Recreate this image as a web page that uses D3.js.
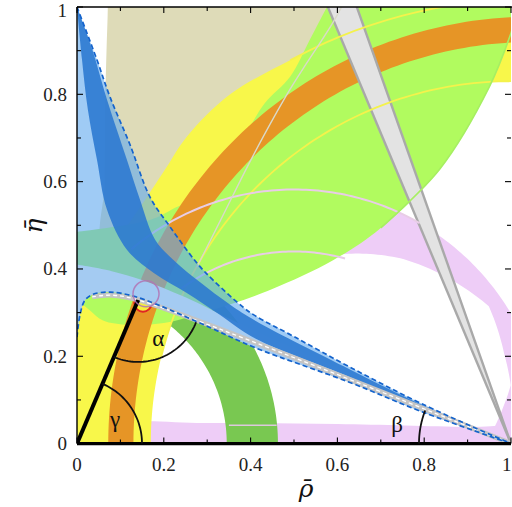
<!DOCTYPE html>
<html>
<head>
<meta charset="utf-8">
<script src="https://cdn.jsdelivr.net/npm/d3@7"></script>
<style>
  html, body { margin: 0; padding: 0; background: #fff; }
  svg { display: block; }
</style>
</head>
<body>
<svg id="chart" width="512" height="507"></svg>
<script>
// ---- axis ticks -------------------------------------------------------
const xTicks = [0, 0.2, 0.4, 0.6, 0.8, 1];
const yTicks = [0, 0.2, 0.4, 0.6, 0.8, 1];
const minorTicks = [0.1, 0.3, 0.5, 0.7, 0.9];

// ---- circular bands: [centre rho, centre eta, inner r, outer r] --------
const vubRing = [0, 0, 0.345, 0.463];
const orangeRing = [1.05, 0, 0.92, 0.978];
const yellowInner = [1, 0, 0.83];
const pinkCentre = [0.5, 0, 0.582];          // centre and outer radius
// inner edge of the pink band: [angle in degrees, radius]
const pinkInner = [[0, 0.45], [5, 0.465], [10, 0.49], [15, 0.517], [23, 0.526], [35, 0.548], [45, 0.524],
  [60, 0.49], [77, 0.444], [90, 0.44], [180, 0.44]];

// ---- free-form constraint boundaries (rho, eta) -----------------------
const yellowOuter = [[0, 0], [0, 0.31], [0.04, 0.385], [0.1, 0.475], [0.168, 0.575], [0.207, 0.634],
  [0.253, 0.703], [0.353, 0.8], [0.491, 0.878], [0.6, 0.93], [0.75, 0.98], [0.9, 1.01], [1.0, 1.02], [1.2, 1.03]];
const pinkStrip = [[0.1, 0], [0.1, 0.04], [0.3, 0.047], [0.6, 0.045], [0.9, 0.038], [1.05, 0.035], [1.05, 0]];
const tanRegion = [[0.071, 1.08], [0.071, 1.0], [0.068, 0.9], [0.065, 0.78], [0.064, 0.6], [0.064, 0.44],
  [0.25, 0.44], [0.3, 0.62], [0.4, 0.75], [0.5, 0.85], [0.55, 0.93], [0.59, 1.0], [0.63, 1.08]];
const limeUpper = [[0, 0.485], [0.168, 0.512], [0.226, 0.54], [0.272, 0.565], [0.318, 0.62], [0.382, 0.7],
  [0.433, 0.78], [0.491, 0.84], [0.537, 0.926], [0.576, 1.0], [0.61, 1.06]];
const limeLower = [[0, 0.33], [0.03, 0.305], [0.06, 0.282], [0.12, 0.272], [0.2, 0.276], [0.28, 0.297],
  [0.359, 0.321], [0.45, 0.354], [0.59, 0.42], [0.7, 0.494], [0.836, 0.629], [0.95, 0.817], [1.0, 0.94], [1.04, 1.07]];
const grayWedgeApex = [1, 0];
const grayWedgeTop = [0.557, 0.627];     // rho where the wedge edges leave at eta = 1.05
const paleLine = [[0.62, 1.02], [0.59, 0.965], [0.49, 0.81], [0.405, 0.658], [0.33, 0.51], [0.276, 0.404]];

// ---- global fit region (blue) ------------------------------------------
const fitUpper = [[0, 1], [0.046, 0.879], [0.076, 0.794], [0.122, 0.685], [0.168, 0.565], [0.214, 0.497],
  [0.276, 0.414], [0.313, 0.375], [0.382, 0.313], [0.412, 0.292], [0.5, 0.245], [0.629, 0.175], [0.797, 0.09], [1, 0]];
const fitLower = [[0, 0.244], [0.007, 0.295], [0.018, 0.328], [0.037, 0.342], [0.076, 0.347], [0.129, 0.338],
  [0.191, 0.316], [0.306, 0.266], [0.412, 0.219], [0.629, 0.14], [0.797, 0.072], [1, 0]];
const coreLeft = [[0, 1], [0.0115, 0.88], [0.025, 0.765], [0.046, 0.65], [0.069, 0.536], [0.115, 0.444],
  [0.177, 0.391], [0.253, 0.345], [0.329, 0.295], [0.412, 0.24], [0.629, 0.152], [0.797, 0.078], [1, 0]];
const coreRight = [[0, 1], [0.035, 0.903], [0.069, 0.788], [0.115, 0.65], [0.145, 0.559], [0.18, 0.467],
  [0.226, 0.417], [0.283, 0.37], [0.353, 0.318], [0.412, 0.281], [0.629, 0.17], [0.797, 0.088], [1, 0]];
const lowerBandTop = [[0, 0.41], [0.08, 0.395], [0.15, 0.375], [0.25, 0.335], [0.4, 0.262], [0.629, 0.16], [1, 0]];
const sideBand = [[0.035, 0.336], [0.08, 0.34], [0.141, 0.329], [1, 0]];

// ---- unitarity triangle ----------------------------------------------
const apex = [0.141, 0.329];
const origin = [0, 0];
const corner = [1, 0];
const apexSpot = [0.152, 0.322, 0.02];   // rho, eta, radius
const apexHalo = [0.159, 0.343, 0.03];
const angleNames = ["α", "β", "γ"];

// ---- drawing ---------------------------------------------------------
const svg = d3.select("#chart");
const x = d3.scaleLinear().domain([0, 1]).range([77, 511]);
const y = d3.scaleLinear().domain([0, 1]).range([443.6, 7]);

const straight = d3.line().x(d => x(d[0])).y(d => y(d[1]));
const smooth = d3.line().x(d => x(d[0])).y(d => y(d[1])).curve(d3.curveCatmullRom.alpha(0.5));

function arcPts(cx, cy, r, a0, a1, n) {
  const p = [];
  for (let i = 0; i <= n; i++) {
    const t = a0 + (a1 - a0) * i / n;
    p.push([cx + r * Math.cos(t), cy + r * Math.sin(t)]);
  }
  return p;
}
function ringPts(c) {
  const [cx, cy, r0, r1] = c;
  return arcPts(cx, cy, r1, 0, Math.PI, 200).concat(arcPts(cx, cy, r0, Math.PI, 0, 200));
}
// joins several boundary pieces (each of two or more points) into one closed outline
function outline(pieces) {
  return pieces.map((p, i) => {
    const s = (p[1] ? smooth : straight)(p[0]).replace(/Z$/, "");
    return i === 0 ? s : "L" + s.slice(1);
  }).join("") + "Z";
}

svg.append("defs").append("clipPath").attr("id", "plotArea")
  .append("rect").attr("x", x(0)).attr("y", y(1))
  .attr("width", x(1) - x(0)).attr("height", y(0) - y(1));

const g = svg.append("g").attr("clip-path", "url(#plotArea)");

// pink band: fixed outer circle, inner edge interpolated from pinkInner
const innerR = d3.scaleLinear().domain(pinkInner.map(d => d[0])).range(pinkInner.map(d => d[1]));
const pinkPts = arcPts(pinkCentre[0], pinkCentre[1], pinkCentre[2], 0, Math.PI, 200)
  .concat(d3.range(180, -1, -1).map(a => {
    const t = a * Math.PI / 180, r = innerR(a);
    return [pinkCentre[0] + r * Math.cos(t), pinkCentre[1] + r * Math.sin(t)];
  }));

// filled constraints
g.append("path").attr("d", smooth(pinkStrip) + "Z").attr("fill", "#eecdf7");
g.append("path").attr("d", straight(pinkPts) + "Z").attr("fill", "#eecdf7");
g.append("path").attr("d", smooth(tanRegion) + "Z").attr("fill", "#dedbb8");
g.append("path").attr("d", straight(ringPts(vubRing)) + "Z").attr("fill", "#79c851");
g.append("path").attr("d", outline([
  [yellowOuter, true],
  [[[1.9, 1.03], [1.9, 0]], false],
  [arcPts(yellowInner[0], yellowInner[1], yellowInner[2], 0, Math.PI, 200), false]
])).attr("fill", "#f8f74a");
g.append("path").attr("d", outline([
  [limeUpper, true],
  [[[0.7, 1.1], [1.15, 1.1]], false],
  [limeLower.slice().reverse(), true]
])).attr("fill", "#b1fb5f");
g.append("path").attr("d", straight(ringPts(orangeRing)) + "Z").attr("fill", "#e69526");

// narrow wedge from (1,0)
const wedge = [grayWedgeApex, [grayWedgeTop[0], 1.05], [grayWedgeTop[1], 1.05]];
g.append("path").attr("d", straight(wedge) + "Z").attr("fill", "#e3e3e3");
grayWedgeTop.forEach(r => {
  g.append("path").attr("d", straight([grayWedgeApex, [r, 1.05]]))
    .attr("fill", "none").attr("stroke", "#a9a9a9").attr("stroke-width", 2.4);
});

// contour outlines
const thin = (pts, col, w, curved) => g.append("path")
  .attr("d", (curved ? smooth : straight)(pts))
  .attr("fill", "none").attr("stroke", col).attr("stroke-width", w);

thin(arcPts(orangeRing[0], 0, orangeRing[2], 0.3, 1.2, 80), "#e69526", 1.6);
thin(arcPts(orangeRing[0], 0, orangeRing[3], 0.3, 1.2, 80), "#e69526", 1.6);
thin(arcPts(yellowInner[0], 0, yellowInner[2], 0.1, 2.9, 160), "#f4f24c", 1.8);
thin(yellowOuter.slice(8), "#f4f24c", 1.8, true);
thin(arcPts(pinkCentre[0], 0, pinkCentre[2], 1.05, 2.27, 80), "#e8cde6", 2);
thin(arcPts(pinkCentre[0], 0, 0.44, 1.3, 2.2, 60), "#e8cde6", 2);
thin(limeLower.slice(9), "#a6ef62", 1.6, true);
thin(paleLine, "#d9d9c9", 1.4, true);
thin([[0.35, 0.042], [0.46, 0.042]], "#dcc8dc", 1.6);

// apex marker underneath the fit region
g.append("circle").attr("cx", x(apexSpot[0])).attr("cy", y(apexSpot[1]))
  .attr("r", x(apexSpot[2]) - x(0))
  .attr("fill", "#f6ef3c").attr("stroke", "#e02424").attr("stroke-width", 2);

// global fit region
g.append("path").attr("d", outline([[fitUpper, true], [fitLower.slice().reverse(), true]]))
  .attr("fill", "#5fa9ef").attr("fill-opacity", 0.6);
g.append("path").attr("d", outline([[lowerBandTop, true], [fitLower.slice().reverse(), true]]))
  .attr("fill", "#a4cbf2");
g.append("path").attr("d", outline([[coreRight, true], [coreLeft.slice().reverse(), true]]))
  .attr("fill", "#2a78d0").attr("fill-opacity", 0.88);

// third side of the triangle
g.append("path").attr("d", smooth(sideBand)).attr("fill", "none")
  .attr("stroke", "#c4c4c4").attr("stroke-width", 5);
g.append("path").attr("d", smooth(sideBand)).attr("fill", "none")
  .attr("stroke", "#ffffff").attr("stroke-width", 1.3).attr("stroke-dasharray", "4,3");

// dashed edges of the fit region
[fitUpper, fitLower].forEach(b => {
  g.append("path").attr("d", smooth(b)).attr("fill", "none")
    .attr("stroke", "#1463cc").attr("stroke-width", 1.7).attr("stroke-dasharray", "5,3");
});

// triangle sides
g.append("path").attr("d", straight([origin, apex])).attr("stroke", "#000").attr("stroke-width", 4);
svg.append("path").attr("d", straight([origin, corner])).attr("stroke", "#000").attr("stroke-width", 3.4);

// angle arcs
const P = d => [x(d[0]), y(d[1])];
function angleArc(c, a, b, r) {
  const [cx, cy] = P(c);
  const ta = Math.atan2(P(a)[1] - cy, P(a)[0] - cx);
  let tb = Math.atan2(P(b)[1] - cy, P(b)[0] - cx);
  while (tb - ta > Math.PI) tb -= 2 * Math.PI;
  while (tb - ta < -Math.PI) tb += 2 * Math.PI;
  const pts = d3.range(0, 41).map(i => {
    const t = ta + (tb - ta) * i / 40;
    return [cx + r * Math.cos(t), cy + r * Math.sin(t)];
  });
  svg.append("path").attr("d", d3.line()(pts)).attr("fill", "none")
    .attr("stroke", "#111").attr("stroke-width", 1.8);
}
angleArc(apex, corner, origin, 62);                 // alpha
angleArc(corner, [-1, 0], apex, 92);                // beta
angleArc(origin, apex, corner, 65);                 // gamma

const greek = (t, px, py) => svg.append("text").attr("x", px).attr("y", py)
  .attr("text-anchor", "middle").attr("font-family", "Liberation Serif, DejaVu Serif, serif")
  .attr("font-size", 23).attr("fill", "#111").text(t);
greek(angleNames[0], x(apex[0]) + 20, y(apex[1]) + 46);
greek(angleNames[1], x(corner[0]) - 114, y(0) - 12);
greek(angleNames[2], x(0) + 38, y(0) - 17);

// halo round the apex
svg.append("circle").attr("cx", x(apexHalo[0])).attr("cy", y(apexHalo[1]))
  .attr("r", x(apexHalo[2]) - x(0)).attr("fill", "none")
  .attr("stroke", "#b274b4").attr("stroke-width", 1.5).attr("stroke-opacity", 0.85);

// ---- axes -------------------------------------------------------------
const ax = svg.append("g").attr("stroke", "#000");
ax.append("line").attr("x1", x(0)).attr("x2", x(0)).attr("y1", y(0)).attr("y2", y(1)).attr("stroke-width", 1.4);
ax.append("line").attr("x1", x(0)).attr("x2", 512).attr("y1", y(1)).attr("y2", y(1)).attr("stroke-width", 1.4);

xTicks.concat(minorTicks).forEach(v => {
  const len = xTicks.includes(v) ? 6 : 4;
  ax.append("line").attr("x1", x(v)).attr("x2", x(v)).attr("y1", y(0)).attr("y2", y(0) - len).attr("stroke-width", 1.1);
  ax.append("line").attr("x1", x(v)).attr("x2", x(v)).attr("y1", y(1)).attr("y2", y(1) + len).attr("stroke-width", 1.1);
});
yTicks.concat(minorTicks).forEach(v => {
  const len = yTicks.includes(v) ? 6 : 4;
  ax.append("line").attr("x1", x(0)).attr("x2", x(0) + len).attr("y1", y(v)).attr("y2", y(v)).attr("stroke-width", 1.1);
  ax.append("line").attr("x1", x(1)).attr("x2", x(1) - len).attr("y1", y(v)).attr("y2", y(v)).attr("stroke-width", 1.1);
});

const fmt = d => d === 0 ? "0" : d === 1 ? "1" : d3.format(".1f")(d);
svg.append("g").selectAll("text").data(xTicks).join("text")
  .attr("x", d => d === 1 ? 511.5 : x(d)).attr("y", 471)
  .attr("text-anchor", d => d === 1 ? "end" : "middle")
  .attr("font-family", "Liberation Serif, serif").attr("font-size", 19).attr("fill", "#222")
  .text(fmt);
svg.append("g").selectAll("text").data(yTicks).join("text")
  .attr("x", 67).attr("y", d => Math.max(y(d) + 6.5, 17))
  .attr("text-anchor", "end")
  .attr("font-family", "Liberation Serif, serif").attr("font-size", 19).attr("fill", "#222")
  .text(fmt);

svg.append("text").attr("x", 306).attr("y", 497).attr("text-anchor", "middle")
  .attr("font-family", "DejaVu Serif, serif").attr("font-style", "italic").attr("font-size", 25)
  .attr("fill", "#111").text("ρ\u0304");
svg.append("text").attr("transform", "translate(42,226) rotate(-90)").attr("text-anchor", "middle")
  .attr("font-family", "DejaVu Serif, serif").attr("font-style", "italic").attr("font-size", 25)
  .attr("fill", "#111").text("η\u0304");
</script>
</body>
</html>
